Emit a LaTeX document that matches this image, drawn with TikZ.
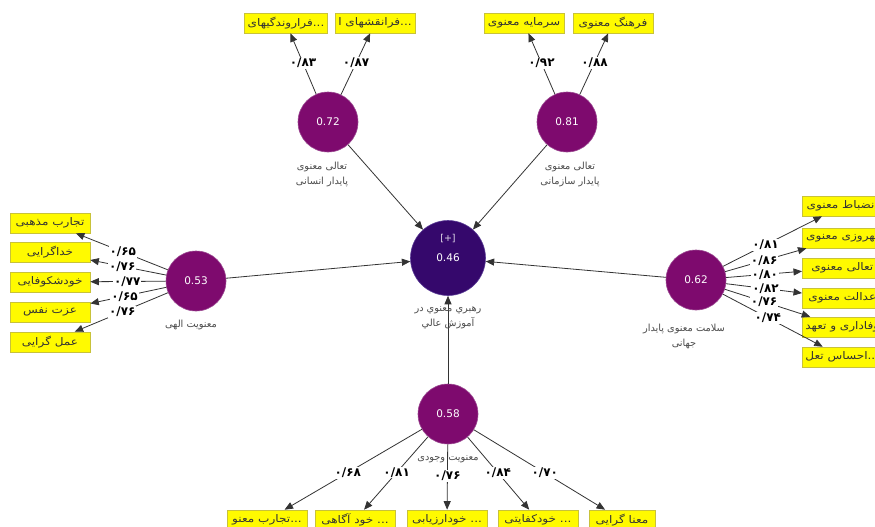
\documentclass[tikz,border=0pt]{standalone}
\usepackage{fontspec}
\setmainfont{DejaVu Sans}
\newfontfamily\fa[Script=Arabic]{DejaVu Sans}
\newfontfamily\faw[Script=Arabic,FakeStretch=1.15]{DejaVu Sans}
\TeXXeTstate=1
\usetikzlibrary{arrows.meta}
\definecolor{lvpurple}{HTML}{7E0A6E}
\definecolor{lvedge}{HTML}{9C4A92}
\definecolor{endo}{HTML}{35086C}
\definecolor{endoedge}{HTML}{5A3C96}
\definecolor{boxfill}{HTML}{FFFA00}
\definecolor{boxedge}{HTML}{C8C23A}
\tikzset{
  lv/.style={circle, fill=lvpurple, draw=lvedge, line width=0.6pt, minimum size=60pt, inner sep=0pt, text=white, font=\fontsize{10.5}{12}\selectfont},
  endonode/.style={circle, fill=endo, draw=endoedge, line width=0.6pt, minimum size=75pt, inner sep=0pt, text=white, font=\fontsize{10.5}{12}\selectfont},
  whitetext/.style={text=white!85!endo, font=\fontsize{9.5}{10}\selectfont, inner sep=0pt},
  ind/.style={draw=boxedge, fill=boxfill, line width=0.6pt, minimum width=80pt, minimum height=20pt, inner xsep=3pt, inner ysep=1pt, text=black!80, font=\faw\fontsize{10.5}{12}\selectfont},
  ld/.style={fill=white, inner sep=1pt, text=black, font=\fa\bfseries\fontsize{12}{13}\selectfont},
  lab/.style={text=black!70, align=center, inner sep=0pt, font=\fa\fontsize{9.8}{15}\selectfont},
  arr/.style={draw=black!80, line width=0.8pt, -{Triangle[length=8.5pt,width=7pt]}},
}
\begin{document}
\begin{tikzpicture}[x=1pt,y=-1pt]
\useasboundingbox (0,0) rectangle (875,527);
\fill[white] (0,0) rectangle (875,527);
\clip (0,0) rectangle (875,527);

% latent variables
\node[lv] (c72) at (328,122) {0.72};
\node[lv] (c81) at (567,122) {0.81};
\node[lv] (c53) at (196,281) {0.53};
\node[lv] (c62) at (696,280) {0.62};
\node[lv] (c58) at (448,414) {0.58};
\node[endonode] (c46) at (448,258) {0.46};
\node[whitetext] (plus) at (448,239) {[+]};

% indicator boxes: top
\node[ind] (i1) at (286,23) {\beginR فراروندگیهای\endR...};
\node[ind] (i2) at (375,23) {\beginR فرانقشهای ا\endR...};
\node[ind] (i3) at (524,23) {\beginR سرمایه معنوی\endR};
\node[ind] (i4) at (613,23) {\beginR فرهنگ معنوی\endR};
% left
\node[ind] (l1) at (50,223) {\beginR تجارب مذهبی\endR};
\node[ind] (l2) at (50,252) {\beginR خداگرایی\endR};
\node[ind] (l3) at (50,282) {\beginR خودشکوفایی\endR};
\node[ind] (l4) at (50,312) {\beginR عزت نفس\endR};
\node[ind] (l5) at (50,342) {\beginR عمل گرایی\endR};
% right
\node[ind, anchor=west] (r1) at (802,206) {\beginR انضباط معنوی\endR};
\node[ind, anchor=west] (r2) at (802,238) {\beginR بهروزی معنوی\endR};
\node[ind, anchor=west] (r3) at (802,268) {\beginR تعالی معنوی\endR};
\node[ind, anchor=west] (r4) at (802,298) {\beginR عدالت معنوی\endR};
\node[ind, anchor=west] (r5) at (802,327) {\beginR وفاداری و تعهد\endR};
\node[ind, anchor=west] (r6) at (802,357) {\beginR احساس تعل\endR...};
% bottom
\node[ind] (b1) at (267,520) {\beginR تجارب معنو\endR...};
\node[ind] (b2) at (355,520) {\beginR خود آگاهی\endR\ ...};
\node[ind] (b3) at (447,520) {\beginR خودارزیابی\endR\ ...};
\node[ind] (b4) at (538,520) {\beginR خودکفایتی\endR\ ...};
\node[ind, minimum width=66pt] (b5) at (622,520) {\beginR معنا گرایی\endR};

% outer loadings
\draw[arr] (c72) -- node[ld, pos=0.51] (w1) {۰/۸۳} (i1);
\draw[arr] (c72) -- node[ld, pos=0.52] (w2) {۰/۸۷} (i2);
\draw[arr] (c81) -- node[ld, pos=0.51] (w3) {۰/۹۲} (i3);
\draw[arr] (c81) -- node[ld, pos=0.52] (w4) {۰/۸۸} (i4);

\draw[arr] (c53) -- node[ld, pos=0.49] (w5) {۰/۶۵} (l1);
\draw[arr] (c53) -- node[ld, pos=0.58] (w6) {۰/۷۶} (l2);
\draw[arr] (c53) -- node[ld, pos=0.51] (w7) {۰/۷۷} (l3);
\draw[arr] (c53) -- node[ld, pos=0.55] (w8) {۰/۶۵} (l4);
\draw[arr] (c53) -- node[ld, pos=0.49] (w9) {۰/۷۶} (l5);

\draw[arr] (c62) -- node[ld, pos=0.43] (w10) {۰/۸۱} (r1);
\draw[arr] (c62) -- node[ld, pos=0.48] (w11) {۰/۸۶} (r2);
\draw[arr] (c62) -- node[ld, pos=0.51] (w12) {۰/۸۰} (r3);
\draw[arr] (c62) -- node[ld, pos=0.52] (w13) {۰/۸۲} (r4);
\draw[arr] (c62) -- node[ld, pos=0.46] (w14) {۰/۷۶} (r5);
\draw[arr] (c62) -- node[ld, pos=0.45] (w15) {۰/۷۴} (r6);

\draw[arr] (c58) -- node[ld, pos=0.54] (w16) {۰/۶۸} (b1);
\draw[arr] (c58) -- node[ld, pos=0.49] (w17) {۰/۸۱} (b2);
\draw[arr] (c58) -- node[ld, pos=0.48] (w18) {۰/۷۶} (b3);
\draw[arr] (c58) -- node[ld, pos=0.49] (w19) {۰/۸۴} (b4);
\draw[arr] (c58) -- node[ld, pos=0.54] (w20) {۰/۷۰} (b5);

% structural paths
\draw[arr] (c72) -- (c46);
\draw[arr] (c81) -- (c46);
\draw[arr] (c53) -- (c46);
\draw[arr] (c62) -- (c46);
\draw[arr] (c58) -- (c46);

% construct labels
\node[lab] (t46) at (448,318) {\beginR رهبري معنوي در\endR\\\beginR آموزش عالي\endR};
\node[lab] (t72) at (322,174) {\beginR تعالی معنوی\endR\\\beginR پایدار انسانی\endR};
\node[lab] (t81) at (570,174) {\beginR تعالی معنوی\endR\\\beginR پایدار سازمانی\endR};
\node[lab] (t53) at (191,325) {\beginR معنویت الهی\endR};
\node[lab] (t62) at (684,336) {\beginR سلامت معنوی پایدار\endR\\\beginR جهانی\endR};
\node[lab] (t58) at (448,459) {\beginR معنویت وجودی\endR};
\end{tikzpicture}
\end{document}
